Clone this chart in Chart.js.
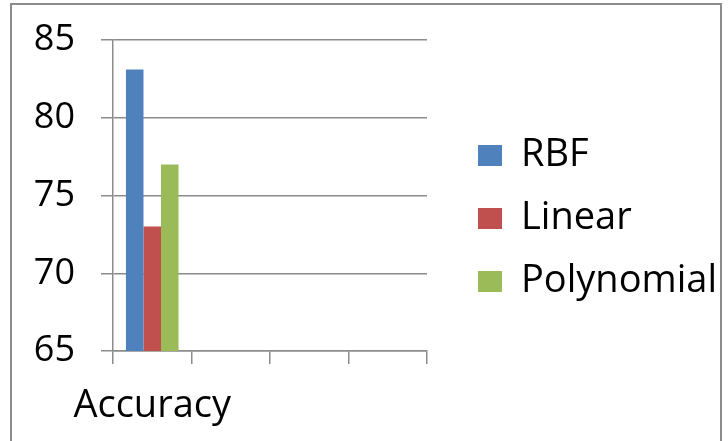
<!DOCTYPE html>
<html>
<head>
<meta charset="utf-8">
<script src="https://cdn.jsdelivr.net/npm/chart.js@4"></script>
<style>
  html, body { margin: 0; padding: 0; background: #fff; overflow: hidden; }
  #frame {
    position: absolute; left: 10px; top: 3px; width: 708px; height: 480px;
    border: 2px solid #8c8c8c; border-bottom: none;
  }
  #chart { position: absolute; left: 0; top: 0; }
</style>
</head>
<body>
<div id="frame"></div>
<canvas id="chart" width="728" height="441"></canvas>
<script>
/* global Chart */

const CATEGORIES = ['Accuracy', '', '', ''];
const SERIES = ['RBF', 'Linear', 'Polynomial'];
const RBF = [83.1, null, null, null];
const LINEAR = [73, null, null, null];
const POLYNOMIAL = [77, null, null, null];
const Y_MIN = 65;
const Y_MAX = 85;
const Y_STEP = 5;

const COLORS = ['#4f81bd', '#c0504d', '#9bbb59'];
const FAMILY = '"Open Sans", sans-serif';
const GRID = '#8c8c8c';

// nudge the legend column, like the Excel layout
const legendShift = {
    id: 'legendShift',
    afterLayout(chart) {
        const lg = chart.legend;
        lg.left += 26;
        lg.right += 26;
        lg.top -= 22;
        lg.bottom -= 22;
    }
};

new Chart(document.getElementById('chart'), {
    type: 'bar',
    data: {
        labels: CATEGORIES,
        datasets: [RBF, LINEAR, POLYNOMIAL].map((values, i) => ({
            label: SERIES[i],
            data: values,
            backgroundColor: COLORS[i],
            borderWidth: 0,
            categoryPercentage: 0.67,
            barPercentage: 1
        }))
    },
    options: {
        responsive: false,
        animation: false,
        devicePixelRatio: 1,
        layout: { padding: { top: 40, right: 27, bottom: 0, left: 0 } },
        scales: {
            x: {
                grid: { drawOnChartArea: false, tickLength: 13, color: GRID, lineWidth: 1.5 },
                border: { color: GRID, width: 1.5 },
                ticks: { font: { family: FAMILY, size: 38 }, color: '#000', padding: 19, maxRotation: 0, autoSkip: false },
                afterFit(scale) { scale.height = 90; }
            },
            y: {
                min: Y_MIN,
                max: Y_MAX,
                grid: { tickLength: 12, color: GRID, lineWidth: 1.5 },
                border: { color: GRID, width: 1.5 },
                ticks: { stepSize: Y_STEP, font: { family: FAMILY, size: 36 }, color: '#000', padding: 26 },
                afterFit(scale) {
                    scale.width = 113;
                    scale.paddingTop = 0;
                    scale.paddingBottom = 0;
                }
            }
        },
        plugins: {
            tooltip: { enabled: false },
            legend: {
                position: 'right',
                maxWidth: 300,
                labels: { font: { family: FAMILY, size: 38 }, color: '#000', boxWidth: 24, boxHeight: 21, padding: 25 }
            }
        }
    },
    plugins: [legendShift]
});
</script>
</body>
</html>
